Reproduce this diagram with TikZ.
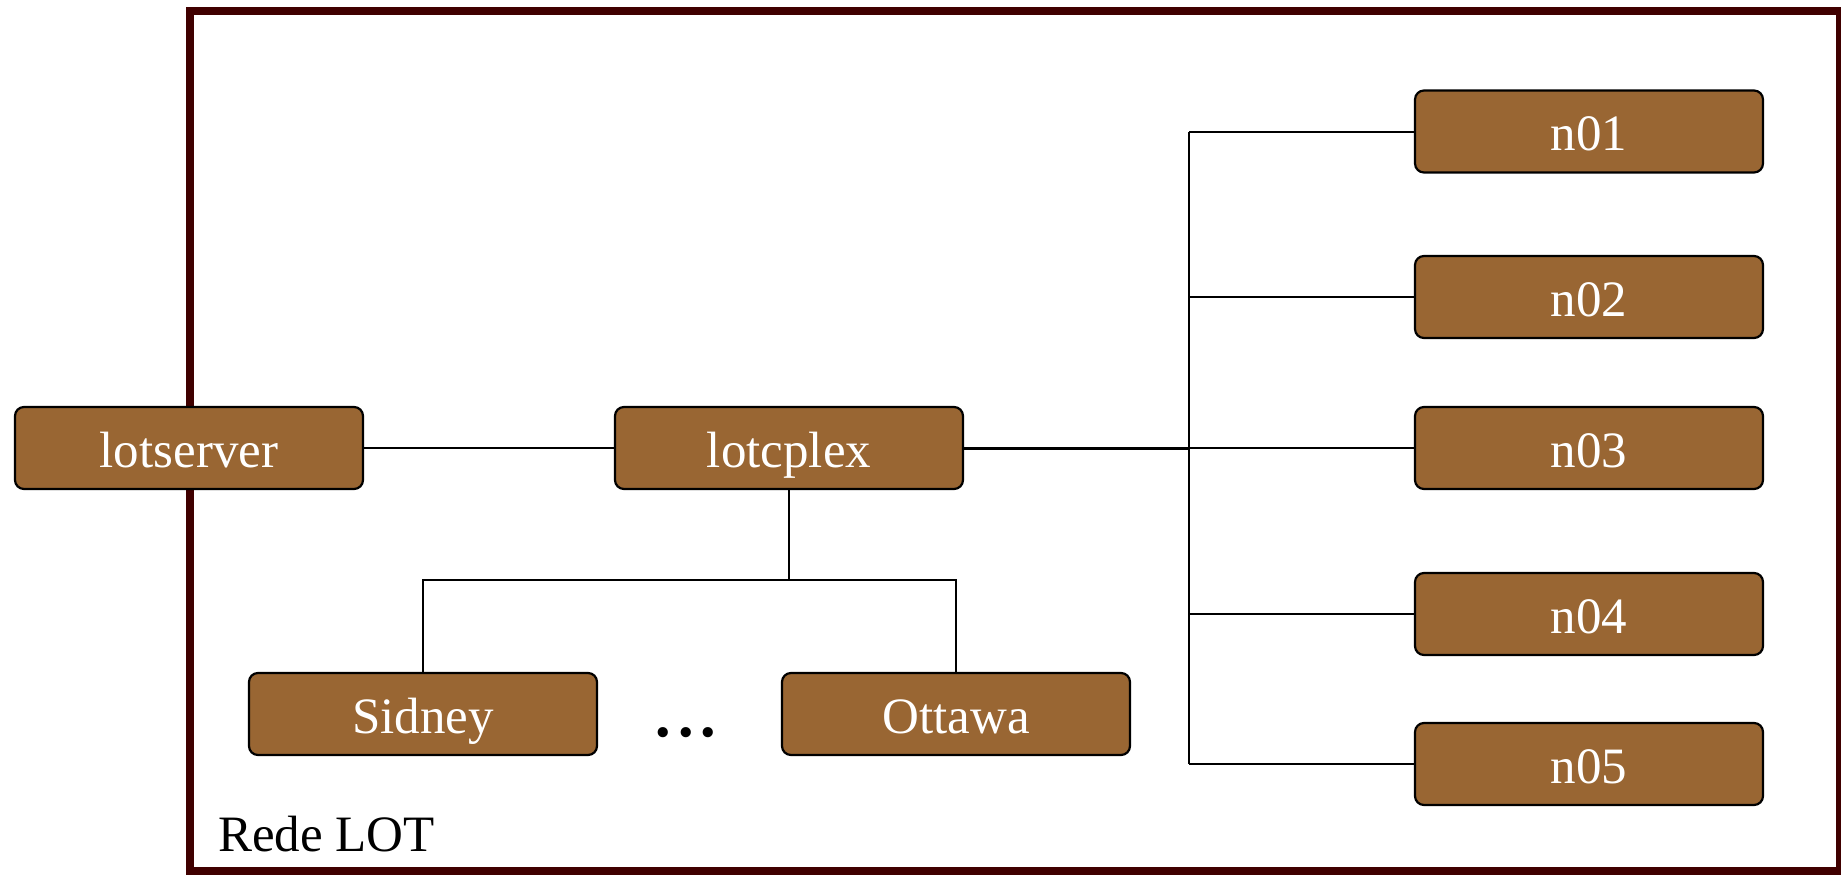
\documentclass[tikz,border=0pt]{standalone}
\usepackage{fontspec}
\setmainfont{Liberation Serif}
\definecolor{framecol}{HTML}{400000}
\definecolor{boxfill}{HTML}{996633}
\begin{document}
\begin{tikzpicture}[x=1pt,y=-1pt,
  box/.style={draw=black,line width=2.2pt,fill=boxfill,rounded corners=9pt,
    minimum width=348pt,minimum height=82pt,inner sep=0pt,text=white,
    text height=38pt,text depth=0pt,
    font=\fontsize{51}{60}\selectfont},
  wire/.style={draw=black,line width=2pt}]
\useasboundingbox (0,0) rectangle (1841,875);
\draw[framecol,line width=8pt] (189.5,11) rectangle (1840,871);
\node[anchor=base west,inner sep=0pt,font=\fontsize{51}{60}\selectfont] (rede) at (218,851) {Rede LOT};
% nodes
\node[box] (lotserver) at (189,448) {lotserver};
\node[box] (lotcplex) at (789,448) {lotcplex};
\node[box] (sidney) at (423,714) {Sidney};
\node[box] (ottawa) at (956,714) {Ottawa};
\node[box] (n01) at (1589,131.5) {n01};
\node[box] (n02) at (1589,297) {n02};
\node[box] (n03) at (1589,448) {n03};
\node[box] (n04) at (1589,614) {n04};
\node[box] (n05) at (1589,764) {n05};
\node[anchor=base,inner sep=0pt,font=\fontsize{86}{90}\selectfont] (dots) at (686,736) {.\kern1.2pt.\kern1.2pt.};
% coordinates
\coordinate (bus) at (1189,448);
\coordinate (sb) at (789,580);
% wires
\draw[wire] (lotserver.east) -- (lotcplex.west);
\draw[wire,line width=3pt] (lotcplex.east) -- (bus);
\draw[wire] (n01.west -| bus) -- (n05.west -| bus);
\foreach \n in {n01,n02,n03,n04,n05}{\draw[wire] (\n.west) -- (\n.west -| bus);}
\draw[wire] (lotcplex.south) -- (sb);
\draw[wire] (sidney.north) |- (sb);
\draw[wire] (ottawa.north) |- (sb);
\end{tikzpicture}
\end{document}
